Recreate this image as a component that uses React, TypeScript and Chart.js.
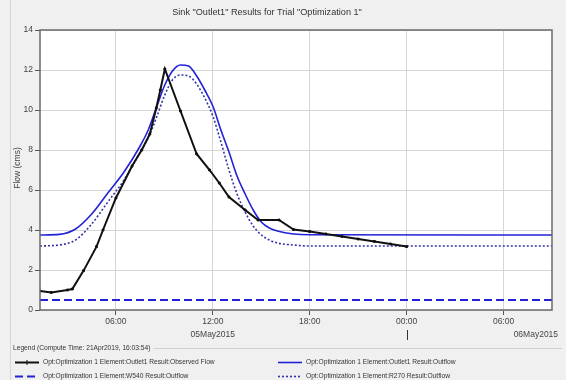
import React, { useEffect, useRef } from "react";
import { Chart, registerables } from "chart.js";

Chart.register(...registerables);

// ---- text ----
const TITLE = 'Sink "Outlet1" Results for Trial "Optimization 1"';
const Y_TITLE = "Flow (cms)";
const LEGEND_HEADER = "Legend (Compute Time: 21Apr2019, 16:03:54)";
const SERIES_NAMES = [
  "Opt:Optimization 1 Element:Outlet1 Result:Observed Flow",
  "Opt:Optimization 1 Element:Outlet1 Result:Outflow",
  "Opt:Optimization 1 Element:W540 Result:Outflow",
  "Opt:Optimization 1 Element:R270 Result:Outflow",
];

// ---- axes (hours from 05May2015 00:00) ----
const X_MIN = 1.3;
const X_MAX = 33;
const X_TICK_HOURS = [6, 12, 18, 24, 30];
const X_TICK_LABELS = ["06:00", "12:00", "18:00", "00:00", "06:00"];
const DATE_LABELS = ["05May2015", "06May2015"];
const DATE_LABEL_HOURS = [12, 32];
const DAY_BREAK_HOUR = 24;
const Y_MIN = 0;
const Y_MAX = 14;
const Y_STEP = 2;

// ---- series ----
const obsTimes = [1.3, 2, 3, 3.3, 4, 4.8, 5.2, 6, 7, 7.6, 8.1, 8.5, 8.75, 9.03, 10, 11, 11.8, 12.4, 13, 14, 14.8, 16.1, 17, 18, 19, 20, 21, 22, 23, 24];
const obsFlow = [0.95, 0.88, 1.0, 1.05, 1.97, 3.17, 4.0, 5.6, 7.2, 8.0, 8.8, 10.1, 11.0, 12.05, 9.95, 7.8, 7.0, 6.35, 5.65, 5.0, 4.5, 4.5, 4.02, 3.92, 3.8, 3.68, 3.55, 3.43, 3.3, 3.17];

const outTimes = [1.3, 2.5, 3.5, 4.5, 5.5, 6.5, 7.5, 8.0, 8.5, 9.0, 9.5, 10.0, 10.5, 11.0, 11.5, 12.0, 12.5, 13.0, 13.5, 14.0, 14.5, 15.0, 15.5, 16.0, 17.0, 18.0, 33];
const outFlow = [3.75, 3.78, 4.05, 4.8, 5.85, 6.9, 8.2, 9.0, 10.1, 11.2, 11.95, 12.25, 12.2, 11.7, 11.0, 10.2, 9.0, 7.9, 6.7, 5.8, 5.0, 4.4, 4.1, 3.95, 3.8, 3.76, 3.75];

const r270Times = [1.3, 2.5, 3.5, 4.5, 5.5, 6.5, 7.5, 8.0, 8.5, 9.0, 9.5, 10.0, 10.5, 11.0, 11.5, 12.0, 12.5, 13.0, 13.5, 14.0, 14.5, 15.0, 15.5, 16.0, 17.0, 18.0, 33];
const r270Flow = [3.2, 3.25, 3.5, 4.3, 5.4, 6.5, 7.9, 8.6, 9.6, 10.7, 11.5, 11.75, 11.7, 11.3, 10.6, 9.7, 8.4, 7.0, 5.8, 4.9, 4.2, 3.75, 3.5, 3.35, 3.25, 3.2, 3.2];

const w540Times = [1.3, 33];
const w540Flow = [0.5, 0.5];

const BLUE = "#2222d6";
const NAVY = "#3434a8";

const toPts = (t: number[], v: number[]) => t.map((x, i) => ({ x, y: v[i] }));

function fitFont(ctx: CanvasRenderingContext2D, text: string, target: number, family: string) {
  ctx.font = `10px ${family}`;
  const w = ctx.measureText(text).width;
  return (10 * target) / w;
}

const FAMILY = '"Liberation Sans", Arial, sans-serif';

const decor = {
  id: "decor",
  beforeDraw(chart: any) {
    const { ctx, chartArea: a, width, height } = chart;
    ctx.save();
    ctx.fillStyle = "#f0f0f0";
    ctx.fillRect(0, 0, width, height);
    ctx.strokeStyle = "#d6d6d6";
    ctx.lineWidth = 1;
    ctx.beginPath();
    ctx.moveTo(10.5, 0);
    ctx.lineTo(10.5, height);
    ctx.stroke();
    ctx.fillStyle = "#ffffff";
    ctx.fillRect(a.left, a.top, a.right - a.left, a.bottom - a.top);
    ctx.restore();
  },
  afterDraw(chart: any) {
    const { ctx, chartArea: a, scales } = chart;
    const xs = scales.x;
    ctx.save();
    // plot border
    ctx.strokeStyle = "#6a6a6a";
    ctx.lineWidth = 1.5;
    ctx.strokeRect(a.left, a.top, a.right - a.left, a.bottom - a.top);

    // title
    const tf = fitFont(ctx, TITLE, 190, FAMILY);
    ctx.font = `${tf}px ${FAMILY}`;
    ctx.fillStyle = "#333";
    ctx.textAlign = "center";
    ctx.textBaseline = "middle";
    ctx.fillText(TITLE, 267, 12);

    // y title
    ctx.save();
    ctx.translate(18, 168);
    ctx.rotate(-Math.PI / 2);
    ctx.font = `8.5px ${FAMILY}`;
    ctx.fillStyle = "#444";
    ctx.fillText(Y_TITLE, 0, 0);
    ctx.restore();

    // date labels
    ctx.font = `8.5px ${FAMILY}`;
    ctx.fillStyle = "#444";
    DATE_LABELS.forEach((d, i) => {
      ctx.fillText(d, xs.getPixelForValue(DATE_LABEL_HOURS[i]), 335);
    });
    // day break mark
    const bx = Math.round(xs.getPixelForValue(DAY_BREAK_HOUR)) + 0.5;
    ctx.strokeStyle = "#333";
    ctx.lineWidth = 1;
    ctx.beginPath();
    ctx.moveTo(bx, 330);
    ctx.lineTo(bx, 340);
    ctx.stroke();

    // legend group
    const lf = fitFont(ctx, SERIES_NAMES[0], 172, FAMILY);
    ctx.font = `${lf}px ${FAMILY}`;
    ctx.textAlign = "left";
    ctx.fillStyle = "#333";
    ctx.fillText(LEGEND_HEADER, 13, 348);
    const hw = ctx.measureText(LEGEND_HEADER).width;
    ctx.strokeStyle = "#cfcfcf";
    ctx.beginPath();
    ctx.moveTo(13 + hw + 3, 348.5);
    ctx.lineTo(562, 348.5);
    ctx.stroke();

    const slots = [
      { x: 15, y: 362 },
      { x: 278, y: 362 },
      { x: 15, y: 376 },
      { x: 278, y: 376 },
    ];
    slots.forEach((s, i) => {
      const ds = chart.data.datasets[i];
      ctx.save();
      ctx.strokeStyle = ds.borderColor;
      ctx.lineWidth = ds.borderWidth;
      ctx.setLineDash(ds.borderDash || []);
      ctx.beginPath();
      ctx.moveTo(s.x, s.y + 0.5);
      ctx.lineTo(s.x + 24, s.y + 0.5);
      ctx.stroke();
      if (i === 0) {
        ctx.setLineDash([]);
        ctx.lineWidth = 1;
        ctx.beginPath();
        ctx.moveTo(s.x + 12, s.y - 2);
        ctx.lineTo(s.x + 12, s.y + 3);
        ctx.stroke();
      }
      ctx.restore();
      ctx.fillStyle = "#333";
      ctx.fillText(SERIES_NAMES[i], s.x + 28, s.y + 0.5);
    });
    ctx.restore();
  },
};

export default function App() {
  const ref = useRef<HTMLCanvasElement | null>(null);
  useEffect(() => {
    document.body.style.margin = "0";
    const canvas = ref.current;
    if (!canvas) return;
    const chart = new Chart(canvas, {
      type: "line",
      data: {
        datasets: [
          {
            label: SERIES_NAMES[0],
            data: toPts(obsTimes, obsFlow),
            borderColor: "#111111",
            backgroundColor: "#111111",
            pointBackgroundColor: "#111111",
            pointBorderColor: "#111111",
            borderWidth: 2,
            pointRadius: 1.3,
            pointBorderWidth: 1,
            pointStyle: "rect",
            tension: 0,
            order: 0,
          },
          {
            label: SERIES_NAMES[1],
            data: toPts(outTimes, outFlow),
            borderColor: BLUE,
            borderWidth: 1.6,
            pointRadius: 0,
            cubicInterpolationMode: "monotone",
            order: 1,
          },
          {
            label: SERIES_NAMES[2],
            data: toPts(w540Times, w540Flow),
            borderColor: BLUE,
            borderWidth: 2,
            borderDash: [8, 4],
            pointRadius: 0,
            order: 2,
          },
          {
            label: SERIES_NAMES[3],
            data: toPts(r270Times, r270Flow),
            borderColor: NAVY,
            borderWidth: 1.6,
            borderDash: [2, 2],
            pointRadius: 0,
            cubicInterpolationMode: "monotone",
            order: 3,
          },
        ],
      },
      options: {
        responsive: false,
        animation: false,
        parsing: false as any,
        layout: { padding: { left: 0, top: 30, right: 14, bottom: 45 } },
        plugins: { legend: { display: false }, title: { display: false }, tooltip: { enabled: false } },
        scales: {
          x: {
            type: "linear",
            min: X_MIN,
            max: X_MAX,
            afterBuildTicks: (s: any) => {
              s.ticks = X_TICK_HOURS.map((v) => ({ value: v }));
            },
            afterFit: (s: any) => {
              s.height = 25;
            },
            ticks: {
              autoSkip: false,
              maxRotation: 0,
              padding: 2,
              color: "#444",
              font: { family: FAMILY, size: 8.5 },
              callback: (v: any) => {
                const i = X_TICK_HOURS.indexOf(Number(v));
                return i >= 0 ? X_TICK_LABELS[i] : "";
              },
            },
            grid: { color: "#d6d6d6", tickColor: "#555", tickLength: 5 },
            border: { display: false },
          },
          y: {
            type: "linear",
            min: Y_MIN,
            max: Y_MAX,
            afterFit: (s: any) => {
              s.width = 40;
            },
            ticks: {
              stepSize: Y_STEP,
              padding: 2,
              color: "#444",
              font: { family: FAMILY, size: 8.5 },
            },
            grid: { color: "#d6d6d6", tickColor: "#555", tickLength: 5 },
            border: { display: false },
          },
        },
      },
      plugins: [decor],
    } as any);
    return () => chart.destroy();
  }, []);
  return <canvas ref={ref} width={566} height={380} style={{ display: "block" }} />;
}
